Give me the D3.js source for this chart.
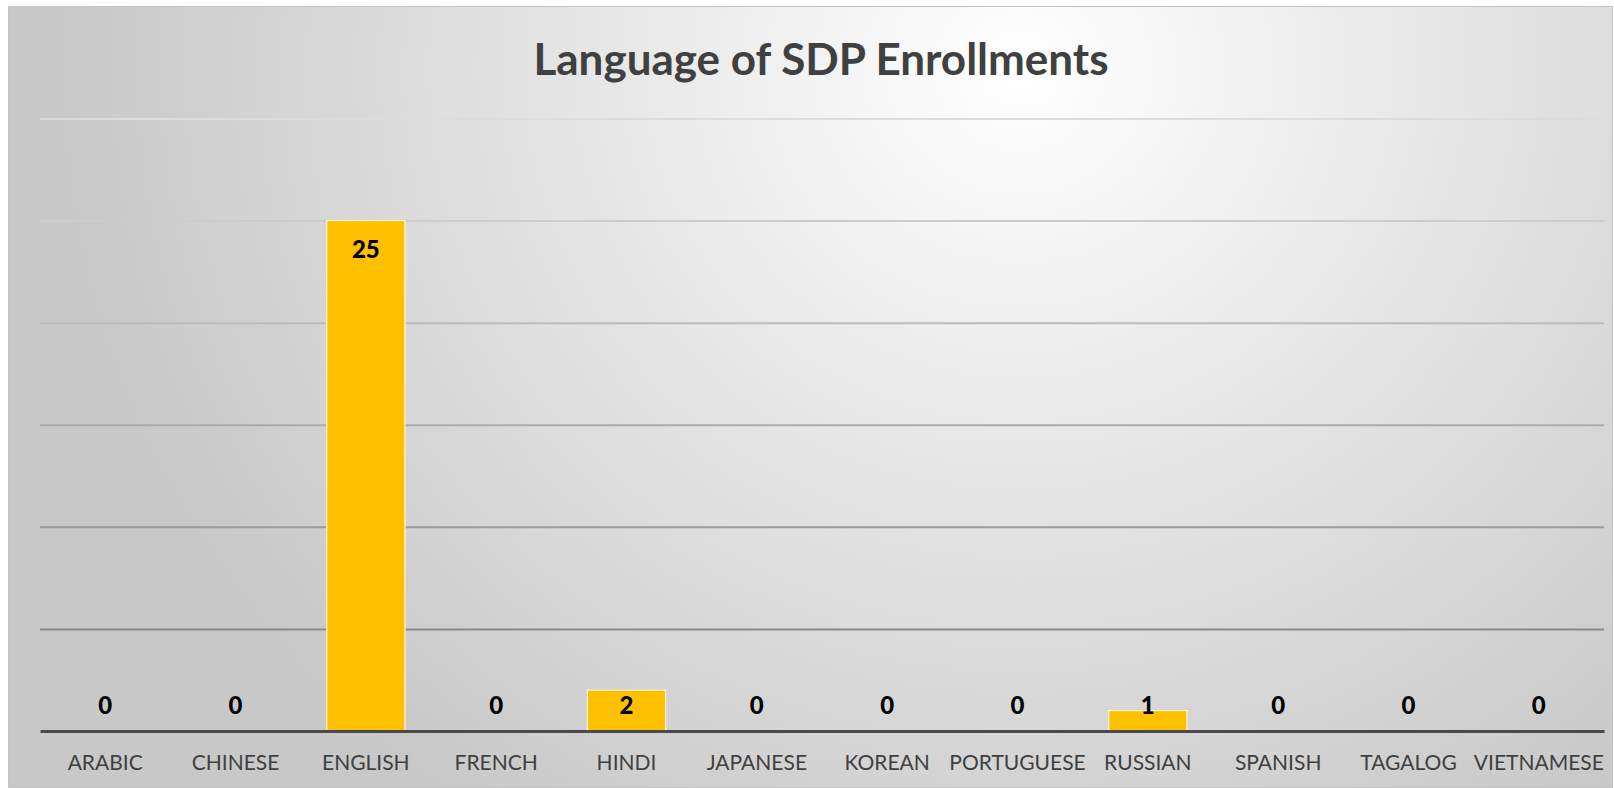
<!DOCTYPE html>
<html>
<head>
<meta charset="utf-8">
<script src="https://cdn.jsdelivr.net/npm/d3@7"></script>
<style>
  html, body { margin: 0; padding: 0; background: #ffffff; }
  svg { display: block; }
</style>
</head>
<body>
<svg id="chart" width="1614" height="788"></svg>
<script>
// ---- data ----
const categories = ["ARABIC", "CHINESE", "ENGLISH", "FRENCH", "HINDI", "JAPANESE", "KOREAN", "PORTUGUESE", "RUSSIAN", "SPANISH", "TAGALOG", "VIETNAMESE"];
const enrollments = [0, 0, 25, 0, 2, 0, 0, 0, 1, 0, 0, 0];
const gridValues = [0, 5, 10, 15, 20, 25, 30];
const chartTitle = "Language of SDP Enrollments";

// ---- layout ----
const frame = { x: 8.5, y: 6.5, w: 1604, h: 781 };
const plot = { left: 40, right: 1604, top: 118.5, bottom: 731 };

const svg = d3.select("#chart");
const defs = svg.append("defs");

// background radial gradient
const rg = defs.append("radialGradient")
  .attr("id", "bg")
  .attr("gradientUnits", "userSpaceOnUse")
  .attr("cx", 0).attr("cy", 0).attr("r", 1)
  .attr("gradientTransform", "translate(1020,70) scale(960,900)");
rg.append("stop").attr("offset", 0).attr("stop-color", "#ffffff");
rg.append("stop").attr("offset", 0.12).attr("stop-color", "#f8f8f8");
rg.append("stop").attr("offset", 1).attr("stop-color", "#c8c8c8");

svg.append("rect")
  .attr("x", frame.x).attr("y", frame.y)
  .attr("width", frame.w).attr("height", frame.h)
  .attr("fill", "url(#bg)")
  .attr("stroke", "#c4c4c4").attr("stroke-width", 1);

// scales
const x = d3.scaleBand()
  .domain(categories)
  .range([plot.left, plot.right])
  .paddingInner(0.4)
  .paddingOuter(0.2);

const y = d3.scaleLinear()
  .domain([0, 30])
  .range([plot.bottom, plot.top]);

const gridColor = d3.scaleLinear()
  .domain([0, 30])
  .range(["#7a7a7a", "#dcdcdc"])
  .interpolate(d3.interpolateRgb);

// gridlines via axis
const gridAxis = d3.axisLeft(y)
  .tickValues(gridValues.filter(v => v > 0))
  .tickSize(-(plot.right - plot.left))
  .tickFormat("");
const gg = svg.append("g")
  .attr("transform", `translate(${plot.left},0)`)
  .call(gridAxis);
gg.select(".domain").remove();
gg.selectAll(".tick line")
  .attr("stroke", d => gridColor(d))
  .attr("stroke-width", 2);

// bars
svg.append("g").selectAll("rect")
  .data(categories.map((c, i) => ({ c, v: enrollments[i] })))
  .join("rect")
  .attr("x", d => x(d.c))
  .attr("y", d => y(d.v))
  .attr("width", x.bandwidth())
  .attr("height", d => y(0) - y(d.v))
  .attr("fill", "#FFC000")
  .attr("stroke", "#fff4d0")
  .attr("stroke-width", d => d.v > 0 ? 1.2 : 0);

// category axis
const xAxis = d3.axisBottom(x).tickSize(0).tickPadding(0);
const xg = svg.append("g")
  .attr("transform", `translate(0,${plot.bottom})`)
  .call(xAxis);
xg.select(".domain")
  .attr("stroke", "#4a4a4a")
  .attr("stroke-width", 3.2);
xg.selectAll(".tick text")
  .attr("y", 32)
  .attr("dy", "0.35em")
  .attr("fill", "#404040")
  .style("font-family", "Lato, 'Open Sans', sans-serif")
  .style("font-size", "21px");

// value labels
svg.append("g").selectAll("text")
  .data(categories.map((c, i) => ({ c, v: enrollments[i] })))
  .join("text")
  .attr("x", d => x(d.c) + x.bandwidth() / 2)
  .attr("y", d => Math.min(y(d.v) + 29, y(0) - 25))
  .attr("dy", "0.35em")
  .attr("text-anchor", "middle")
  .attr("fill", "#000000")
  .style("font-family", "Lato, 'Open Sans', sans-serif")
  .style("font-weight", "900")
  .style("font-size", "24px")
  .text(d => d.v);

// title
svg.append("text")
  .attr("x", 821)
  .attr("y", 75)
  .attr("text-anchor", "middle")
  .attr("fill", "#404040")
  .style("font-family", "Lato, 'Open Sans', sans-serif")
  .style("font-weight", "bold")
  .style("font-size", "44px")
  .text(chartTitle);
</script>
</body>
</html>
